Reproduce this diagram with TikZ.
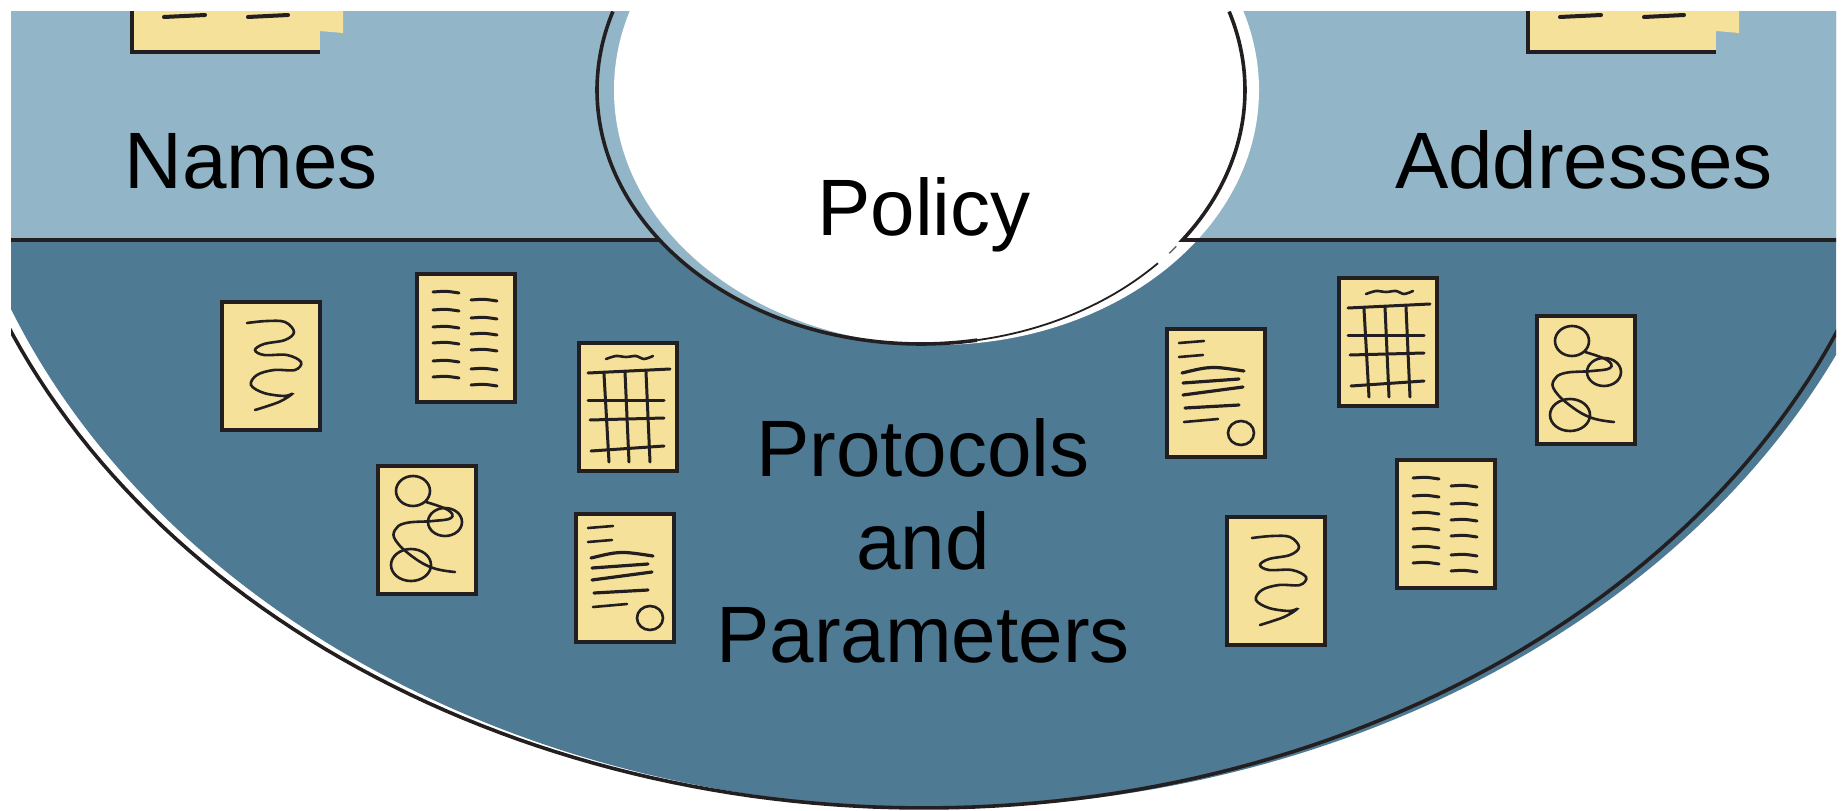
\documentclass[tikz,border=0pt]{standalone}
\usepackage{fontspec}
\setmainfont{Liberation Sans}
\definecolor{lightband}{HTML}{92B5C8}
\definecolor{darkband}{HTML}{4F7A93}
\definecolor{sheet}{HTML}{F5E199}
\definecolor{ink}{HTML}{231F20}
\tikzset{
  label/.style={inner sep=0pt,anchor=base,font=\fontsize{80}{93}\selectfont},
  rimline/.style={ink,line width=3.6},
  sheetbox/.style={fill=sheet,draw=ink,line width=3.6},
  scrawl/.style={ink,line width=2.6,line cap=round},
  pics/squiggle/.style={code={
    \draw[sheetbox] (1,1) rectangle (99,129);
    \draw[scrawl] plot[smooth,tension=.6] coordinates {(26,22) (46,20) (64,21) (73,31) (64,39) (43,43) (34,49)
      (43,54) (66,54) (80,61) (74,69) (53,69) (36,74) (30,84) (43,92) (63,95) (71,93) (58,101) (34,109)};
  }},
  pics/columns/.style={code={
    \draw[sheetbox] (1,1) rectangle (99,129);
    \foreach \y in {19,37,54,70,88,104} \draw[scrawl,line width=3] (17,\y) .. controls (30,\y-1) .. (43,\y+1);
    \foreach \y in {27,45,61,77,96,112} \draw[scrawl,line width=3] (55,\y) .. controls (68,\y-1) .. (81,\y+1);
  }},
  pics/table/.style={code={
    \draw[sheetbox] (1,1) rectangle (99,129);
    \draw[scrawl] plot[smooth] coordinates {(28,17) (38,14) (48,15) (58,14) (66,17) (75,14)};
    \draw[scrawl,line width=3] (10,31) -- (92,27);
    \draw[scrawl,line width=3] (10,58) -- (86,58);
    \draw[scrawl,line width=3] (12,78) -- (86,76);
    \draw[scrawl,line width=3] (13,109) -- (86,104);
    \draw[scrawl,line width=3] (26,32) -- (31,120);
    \draw[scrawl,line width=3] (47,30) -- (51,120);
    \draw[scrawl,line width=3] (68,30) -- (72,120);
  }},
  pics/loops/.style={code={
    \draw[sheetbox] (1,1) rectangle (99,129);
    \draw[scrawl] (36,26) ellipse [x radius=17,y radius=15];
    \draw[scrawl] (68,57) ellipse [x radius=17,y radius=14];
    \draw[scrawl] (34,100) ellipse [x radius=20,y radius=16];
    \draw[scrawl] plot[smooth,tension=.7] coordinates {(49,37) (71,45) (74,53) (56,56) (29,58) (18,65)
      (19,76) (36,92) (56,103) (78,107)};
  }},
  pics/letter/.style={code={
    \draw[sheetbox] (1,1) rectangle (99,129);
    \draw[scrawl] (13,15) -- (38,13);
    \draw[scrawl] (13,29) -- (37,27);
    \draw[scrawl,line width=3.2] (16,45) .. controls (45,38) .. (78,43);
    \draw[scrawl,line width=3.2] (17,55) -- (73,51);
    \draw[scrawl,line width=3.2] (17,67) -- (77,59);
    \draw[scrawl,line width=3.2] (19,80) -- (73,77);
    \draw[scrawl] (18,94) -- (52,91);
    \draw[scrawl] (75,105) ellipse [x radius=13,y radius=12];
  }},
  pics/stack/.style={code={
    \fill[sheet] (188,0) -- (211,0) -- (211,22) -- (188,20) -- cycle;
    \fill[sheet] (0,0) rectangle (188,42);
    \draw[ink,line width=3.6] (0,0) -- (0,41) -- (188,41);
    \draw[scrawl,line width=4] (32,6) -- (73,4);
    \draw[scrawl,line width=4] (116,6) -- (156,4);
  }},
}
\begin{document}
\begin{tikzpicture}[x=1pt,y=-1pt]
  \useasboundingbox (0,0) rectangle (1845,811);
  \begin{scope}
    \clip (11,11) rectangle (1836,811);
    % bands
    \fill[darkband] (936,20) ellipse [x radius=994,y radius=788];
    \fill[lightband] (11,11) rectangle (1836,240);
    \fill[lightband] (921,90) ellipse [x radius=324,y radius=254];
    \fill[white] (936.5,90) ellipse [x radius=322.5,y radius=255];
    % rims
    \draw[rimline] plot[domain=160:20,samples=120] ({924+994*cos(\x)},{20+788*sin(\x)});
    \draw[rimline] (11,240) -- (660,240);
    \draw[rimline,line join=miter] plot[domain=198:80,samples=90] ({921+324*cos(\x)},{90+254*sin(\x)});
    \draw[rimline] plot[domain=-18:36.2,samples=40] ({921+324*cos(\x)},{90+254*sin(\x)}) -- (1836,240);
    \draw[ink,line width=1.8] plot[domain=80:43,samples=30] ({921+324*cos(\x)},{90+254*sin(\x)});
    \draw[ink!70,line width=1.4] plot[domain=40:38,samples=4] ({921+324*cos(\x)},{90+254*sin(\x)});
    % top sheets
    \pic at (132,11) {stack};
    \pic at (1528,11) {stack};
  \end{scope}
  % left sheets
  \pic at (221,301) {squiggle};
  \pic at (416,273) {columns};
  \pic at (578,342) {table};
  \pic at (377,465) {loops};
  \pic at (575,513) {letter};
  % right sheets
  \pic at (1166,328) {letter};
  \pic at (1338,277) {table};
  \pic at (1536,315) {loops};
  \pic at (1226,516) {squiggle};
  \pic at (1396,459) {columns};
  \node[label] (names) at (251,188) {Names};
  \node[label] (addresses) at (1584,188) {Addresses};
  \node[label] (policy) at (924,235) {Policy};
  \node[label,align=center,anchor=center] (protocols) at (923,541) {Protocols\\and\\Parameters};
\end{tikzpicture}
\end{document}
